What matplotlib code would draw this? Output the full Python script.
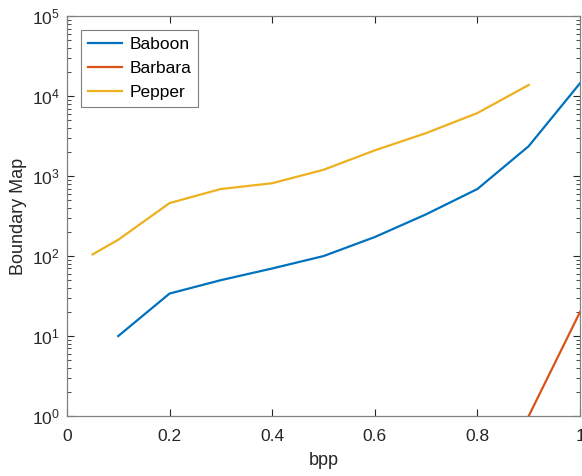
import numpy as np
import matplotlib.pyplot as plt

plt.rcParams['font.family'] = ['Liberation Sans', 'DejaVu Sans']

# values (log scale y)
bpp_baboon = [0.1, 0.2, 0.3, 0.4, 0.5, 0.6, 0.7, 0.8, 0.9, 1.0]
baboon = [10, 34, 50, 70, 100, 173, 333, 690, 2370, 14500]

bpp_barbara = [0.9, 1.0]
barbara = [1, 20]

bpp_pepper = [0.05, 0.1, 0.2, 0.3, 0.4, 0.5, 0.6, 0.7, 0.8, 0.9]
pepper = [105, 160, 460, 690, 815, 1200, 2100, 3450, 6150, 13800]

fig = plt.figure(figsize=(5.82, 4.76), dpi=100)
ax = fig.add_axes([0.115, 0.126, 0.8816, 0.84])

ax.plot(bpp_baboon, baboon, color='#0072BD', lw=1.6, label='Baboon')
ax.plot(bpp_barbara, barbara, color='#D95319', lw=1.6, label='Barbara')
ax.plot(bpp_pepper, pepper, color='#EDB120', lw=1.6, label='Pepper')

ax.set_yscale('log')
ax.set_xlim(0, 1)
ax.set_ylim(1, 1e5)
ax.set_xticks([0, 0.2, 0.4, 0.6, 0.8, 1])
ax.set_xticklabels(['0', '0.2', '0.4', '0.6', '0.8', '1'])
ax.set_yticks([1e0, 1e1, 1e2, 1e3, 1e4, 1e5])

ax.tick_params(which='both', direction='in', top=True, right=True,
               colors='#262626', labelsize=12.5)
ax.tick_params(which='major', length=5, width=0.8)
ax.tick_params(which='minor', length=3, width=0.6)
ax.tick_params(axis='x', pad=9)
ax.tick_params(axis='y', pad=5)
for s in ax.spines.values():
    s.set_color('#808080')
    s.set_linewidth(0.9)

ax.set_xlabel('bpp', fontsize=13, color='#262626', labelpad=6)
ax.set_ylabel('Boundary Map', fontsize=13, color='#262626')

leg = ax.legend(loc='upper left', fontsize=12.5, fancybox=False,
                edgecolor='#808080', framealpha=1, handlelength=2.0,
                handletextpad=0.4, borderaxespad=0.8, labelspacing=0.5,
                borderpad=0.4)
leg.get_frame().set_linewidth(0.8)

fig.savefig('out.png', dpi=100)
